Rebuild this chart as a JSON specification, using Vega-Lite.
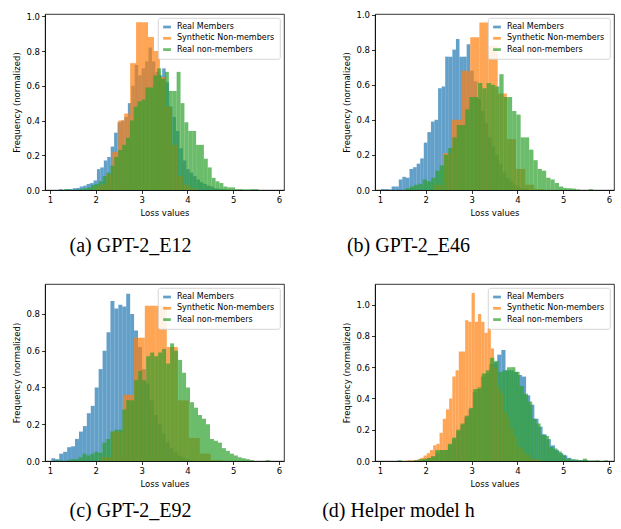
{
"$schema": "https://vega.github.io/schema/vega-lite/v6.json",
"background": "white",
"padding": {"left": 12, "top": 10, "right": 2, "bottom": 0},
"config": {
 "view": {"stroke": "black", "strokeWidth": 0.8},
 "axis": {"labelFont": "DejaVu Sans", "labelFontSize": 8.5, "titleFont": "DejaVu Sans", "titleFontSize": 8.5, "titleFontWeight": "normal", "labelColor": "black", "titleColor": "black", "tickColor": "black", "domainColor": "black", "tickSize": 3.5, "tickWidth": 0.8, "domainWidth": 0.8, "grid": false, "labelPadding": 2, "titlePadding": 4, "labelFlush": false, "labelOverlap": false},
 "legend": {"orient": "top-right", "offset": 4, "fillColor": "rgba(255,255,255,0.85)", "strokeColor": "#cccccc", "strokeWidth": 0.8, "cornerRadius": 2, "padding": 5, "labelFont": "DejaVu Sans", "labelFontSize": 8, "labelColor": "black", "symbolType": "M-1,-0.35H1V0.35H-1Z", "symbolSize": 60, "symbolOpacity": 0.7, "symbolStrokeWidth": 0, "rowPadding": 3.3, "labelOffset": 6},
 "title": {"font": "Liberation Serif", "fontSize": 20, "fontWeight": "normal", "color": "black"}
},
"datasets": {
"a": [
{"s":"Real Members","x0":1.2,"x1":1.275,"y":0.005},
{"s":"Real Members","x0":1.35,"x1":1.425,"y":0.005},
{"s":"Real Members","x0":1.425,"x1":1.5,"y":0.005},
{"s":"Real Members","x0":1.5,"x1":1.575,"y":0.01},
{"s":"Real Members","x0":1.575,"x1":1.65,"y":0.012},
{"s":"Real Members","x0":1.65,"x1":1.725,"y":0.02},
{"s":"Real Members","x0":1.725,"x1":1.8,"y":0.025},
{"s":"Real Members","x0":1.8,"x1":1.875,"y":0.035},
{"s":"Real Members","x0":1.875,"x1":1.95,"y":0.04},
{"s":"Real Members","x0":1.95,"x1":2.025,"y":0.055},
{"s":"Real Members","x0":2.025,"x1":2.1,"y":0.12},
{"s":"Real Members","x0":2.1,"x1":2.175,"y":0.13},
{"s":"Real Members","x0":2.175,"x1":2.25,"y":0.17},
{"s":"Real Members","x0":2.25,"x1":2.325,"y":0.19},
{"s":"Real Members","x0":2.325,"x1":2.4,"y":0.25},
{"s":"Real Members","x0":2.4,"x1":2.475,"y":0.33},
{"s":"Real Members","x0":2.475,"x1":2.55,"y":0.39},
{"s":"Real Members","x0":2.55,"x1":2.625,"y":0.40},
{"s":"Real Members","x0":2.625,"x1":2.7,"y":0.42},
{"s":"Real Members","x0":2.7,"x1":2.775,"y":0.5},
{"s":"Real Members","x0":2.775,"x1":2.85,"y":0.6},
{"s":"Real Members","x0":2.85,"x1":2.925,"y":0.72},
{"s":"Real Members","x0":2.925,"x1":3.0,"y":0.66},
{"s":"Real Members","x0":3.0,"x1":3.075,"y":0.70},
{"s":"Real Members","x0":3.075,"x1":3.15,"y":0.74},
{"s":"Real Members","x0":3.15,"x1":3.225,"y":0.82},
{"s":"Real Members","x0":3.225,"x1":3.3,"y":0.74},
{"s":"Real Members","x0":3.3,"x1":3.375,"y":0.68},
{"s":"Real Members","x0":3.375,"x1":3.45,"y":0.66},
{"s":"Real Members","x0":3.45,"x1":3.525,"y":0.70},
{"s":"Real Members","x0":3.525,"x1":3.6,"y":0.62},
{"s":"Real Members","x0":3.6,"x1":3.675,"y":0.48},
{"s":"Real Members","x0":3.675,"x1":3.75,"y":0.42},
{"s":"Real Members","x0":3.75,"x1":3.825,"y":0.34},
{"s":"Real Members","x0":3.825,"x1":3.9,"y":0.24},
{"s":"Real Members","x0":3.9,"x1":3.975,"y":0.17},
{"s":"Real Members","x0":3.975,"x1":4.05,"y":0.12},
{"s":"Real Members","x0":4.05,"x1":4.125,"y":0.10},
{"s":"Real Members","x0":4.125,"x1":4.2,"y":0.08},
{"s":"Real Members","x0":4.2,"x1":4.275,"y":0.06},
{"s":"Real Members","x0":4.275,"x1":4.35,"y":0.045},
{"s":"Real Members","x0":4.35,"x1":4.425,"y":0.035},
{"s":"Real Members","x0":4.425,"x1":4.5,"y":0.025},
{"s":"Real Members","x0":4.5,"x1":4.575,"y":0.02},
{"s":"Real Members","x0":4.575,"x1":4.65,"y":0.01},
{"s":"Real Members","x0":4.65,"x1":4.725,"y":0.008},
{"s":"Real Members","x0":4.725,"x1":4.8,"y":0.005},
{"s":"Real Members","x0":4.8,"x1":4.875,"y":0.003},
{"s":"Synthetic Non-members","x0":1.97,"x1":2.1,"y":0.02},
{"s":"Synthetic Non-members","x0":2.1,"x1":2.23,"y":0.035},
{"s":"Synthetic Non-members","x0":2.23,"x1":2.36,"y":0.09},
{"s":"Synthetic Non-members","x0":2.36,"x1":2.49,"y":0.22},
{"s":"Synthetic Non-members","x0":2.49,"x1":2.62,"y":0.40},
{"s":"Synthetic Non-members","x0":2.62,"x1":2.75,"y":0.44},
{"s":"Synthetic Non-members","x0":2.75,"x1":2.88,"y":0.73},
{"s":"Synthetic Non-members","x0":2.88,"x1":3.01,"y":0.965},
{"s":"Synthetic Non-members","x0":3.01,"x1":3.14,"y":0.965},
{"s":"Synthetic Non-members","x0":3.14,"x1":3.27,"y":0.88},
{"s":"Synthetic Non-members","x0":3.27,"x1":3.4,"y":0.80},
{"s":"Synthetic Non-members","x0":3.4,"x1":3.53,"y":0.65},
{"s":"Synthetic Non-members","x0":3.53,"x1":3.66,"y":0.48},
{"s":"Synthetic Non-members","x0":3.66,"x1":3.79,"y":0.26},
{"s":"Synthetic Non-members","x0":3.79,"x1":3.92,"y":0.08},
{"s":"Synthetic Non-members","x0":3.92,"x1":4.05,"y":0.03},
{"s":"Synthetic Non-members","x0":4.05,"x1":4.18,"y":0.01},
{"s":"Real non-members","x0":1.3,"x1":1.385,"y":0.005},
{"s":"Real non-members","x0":1.385,"x1":1.47,"y":0.003},
{"s":"Real non-members","x0":1.555,"x1":1.64,"y":0.003},
{"s":"Real non-members","x0":1.64,"x1":1.725,"y":0.005},
{"s":"Real non-members","x0":1.725,"x1":1.81,"y":0.01},
{"s":"Real non-members","x0":1.81,"x1":1.895,"y":0.015},
{"s":"Real non-members","x0":1.895,"x1":1.98,"y":0.03},
{"s":"Real non-members","x0":1.98,"x1":2.065,"y":0.035},
{"s":"Real non-members","x0":2.065,"x1":2.15,"y":0.05},
{"s":"Real non-members","x0":2.15,"x1":2.235,"y":0.08},
{"s":"Real non-members","x0":2.235,"x1":2.32,"y":0.10},
{"s":"Real non-members","x0":2.32,"x1":2.405,"y":0.14},
{"s":"Real non-members","x0":2.405,"x1":2.49,"y":0.19},
{"s":"Real non-members","x0":2.49,"x1":2.575,"y":0.23},
{"s":"Real non-members","x0":2.575,"x1":2.66,"y":0.26},
{"s":"Real non-members","x0":2.66,"x1":2.745,"y":0.30},
{"s":"Real non-members","x0":2.745,"x1":2.83,"y":0.40},
{"s":"Real non-members","x0":2.83,"x1":2.915,"y":0.48},
{"s":"Real non-members","x0":2.915,"x1":3.0,"y":0.51},
{"s":"Real non-members","x0":3.0,"x1":3.085,"y":0.52},
{"s":"Real non-members","x0":3.085,"x1":3.17,"y":0.59},
{"s":"Real non-members","x0":3.17,"x1":3.255,"y":0.59},
{"s":"Real non-members","x0":3.255,"x1":3.34,"y":0.66},
{"s":"Real non-members","x0":3.34,"x1":3.425,"y":0.70},
{"s":"Real non-members","x0":3.425,"x1":3.51,"y":0.64},
{"s":"Real non-members","x0":3.51,"x1":3.595,"y":0.68},
{"s":"Real non-members","x0":3.595,"x1":3.68,"y":0.57},
{"s":"Real non-members","x0":3.68,"x1":3.765,"y":0.57},
{"s":"Real non-members","x0":3.765,"x1":3.85,"y":0.68},
{"s":"Real non-members","x0":3.85,"x1":3.935,"y":0.50},
{"s":"Real non-members","x0":3.935,"x1":4.02,"y":0.39},
{"s":"Real non-members","x0":4.02,"x1":4.105,"y":0.34},
{"s":"Real non-members","x0":4.105,"x1":4.19,"y":0.34},
{"s":"Real non-members","x0":4.19,"x1":4.275,"y":0.26},
{"s":"Real non-members","x0":4.275,"x1":4.36,"y":0.26},
{"s":"Real non-members","x0":4.36,"x1":4.445,"y":0.18},
{"s":"Real non-members","x0":4.445,"x1":4.53,"y":0.13},
{"s":"Real non-members","x0":4.53,"x1":4.615,"y":0.07},
{"s":"Real non-members","x0":4.615,"x1":4.7,"y":0.05},
{"s":"Real non-members","x0":4.7,"x1":4.785,"y":0.04},
{"s":"Real non-members","x0":4.785,"x1":4.87,"y":0.02},
{"s":"Real non-members","x0":4.87,"x1":4.955,"y":0.015},
{"s":"Real non-members","x0":4.955,"x1":5.04,"y":0.015},
{"s":"Real non-members","x0":5.04,"x1":5.125,"y":0.005},
{"s":"Real non-members","x0":5.125,"x1":5.21,"y":0.005},
{"s":"Real non-members","x0":5.21,"x1":5.295,"y":0.003},
{"s":"Real non-members","x0":5.295,"x1":5.38,"y":0.003},
{"s":"Real non-members","x0":5.38,"x1":5.465,"y":0.005},
{"s":"Real non-members","x0":5.465,"x1":5.55,"y":0.005}
],
"b": [
{"s":"Real Members","x0":1.02,"x1":1.098,"y":0.005},
{"s":"Real Members","x0":1.098,"x1":1.176,"y":0.005},
{"s":"Real Members","x0":1.176,"x1":1.254,"y":0.003},
{"s":"Real Members","x0":1.254,"x1":1.332,"y":0.02},
{"s":"Real Members","x0":1.332,"x1":1.41,"y":0.02},
{"s":"Real Members","x0":1.41,"x1":1.488,"y":0.06},
{"s":"Real Members","x0":1.488,"x1":1.566,"y":0.075},
{"s":"Real Members","x0":1.566,"x1":1.644,"y":0.07},
{"s":"Real Members","x0":1.644,"x1":1.722,"y":0.12},
{"s":"Real Members","x0":1.722,"x1":1.8,"y":0.13},
{"s":"Real Members","x0":1.8,"x1":1.878,"y":0.15},
{"s":"Real Members","x0":1.878,"x1":1.956,"y":0.18},
{"s":"Real Members","x0":1.956,"x1":2.034,"y":0.27},
{"s":"Real Members","x0":2.034,"x1":2.112,"y":0.33},
{"s":"Real Members","x0":2.112,"x1":2.19,"y":0.39},
{"s":"Real Members","x0":2.19,"x1":2.268,"y":0.40},
{"s":"Real Members","x0":2.268,"x1":2.346,"y":0.58},
{"s":"Real Members","x0":2.346,"x1":2.424,"y":0.59},
{"s":"Real Members","x0":2.424,"x1":2.502,"y":0.76},
{"s":"Real Members","x0":2.502,"x1":2.58,"y":0.76},
{"s":"Real Members","x0":2.58,"x1":2.658,"y":0.80},
{"s":"Real Members","x0":2.658,"x1":2.736,"y":0.86},
{"s":"Real Members","x0":2.736,"x1":2.814,"y":0.76},
{"s":"Real Members","x0":2.814,"x1":2.892,"y":0.76},
{"s":"Real Members","x0":2.892,"x1":2.97,"y":0.83},
{"s":"Real Members","x0":2.97,"x1":3.048,"y":0.68},
{"s":"Real Members","x0":3.048,"x1":3.126,"y":0.62},
{"s":"Real Members","x0":3.126,"x1":3.204,"y":0.52},
{"s":"Real Members","x0":3.204,"x1":3.282,"y":0.45},
{"s":"Real Members","x0":3.282,"x1":3.36,"y":0.38},
{"s":"Real Members","x0":3.36,"x1":3.438,"y":0.30},
{"s":"Real Members","x0":3.438,"x1":3.516,"y":0.25},
{"s":"Real Members","x0":3.516,"x1":3.594,"y":0.20},
{"s":"Real Members","x0":3.594,"x1":3.672,"y":0.15},
{"s":"Real Members","x0":3.672,"x1":3.75,"y":0.10},
{"s":"Real Members","x0":3.75,"x1":3.828,"y":0.07},
{"s":"Real Members","x0":3.828,"x1":3.906,"y":0.05},
{"s":"Real Members","x0":3.906,"x1":3.984,"y":0.03},
{"s":"Real Members","x0":3.984,"x1":4.062,"y":0.02},
{"s":"Real Members","x0":4.062,"x1":4.14,"y":0.01},
{"s":"Real Members","x0":4.14,"x1":4.218,"y":0.005},
{"s":"Synthetic Non-members","x0":2.17,"x1":2.37,"y":0.03},
{"s":"Synthetic Non-members","x0":2.37,"x1":2.57,"y":0.21},
{"s":"Synthetic Non-members","x0":2.57,"x1":2.77,"y":0.40},
{"s":"Synthetic Non-members","x0":2.77,"x1":2.97,"y":0.68},
{"s":"Synthetic Non-members","x0":2.97,"x1":3.17,"y":0.87},
{"s":"Synthetic Non-members","x0":3.17,"x1":3.37,"y":0.955},
{"s":"Synthetic Non-members","x0":3.37,"x1":3.57,"y":0.82},
{"s":"Synthetic Non-members","x0":3.57,"x1":3.77,"y":0.55},
{"s":"Synthetic Non-members","x0":3.77,"x1":3.97,"y":0.29},
{"s":"Synthetic Non-members","x0":3.97,"x1":4.17,"y":0.12},
{"s":"Synthetic Non-members","x0":4.17,"x1":4.37,"y":0.03},
{"s":"Synthetic Non-members","x0":4.37,"x1":4.57,"y":0.005},
{"s":"Real non-members","x0":1.56,"x1":1.653,"y":0.01},
{"s":"Real non-members","x0":1.653,"x1":1.746,"y":0.02},
{"s":"Real non-members","x0":1.746,"x1":1.839,"y":0.03},
{"s":"Real non-members","x0":1.839,"x1":1.932,"y":0.035},
{"s":"Real non-members","x0":1.932,"x1":2.025,"y":0.06},
{"s":"Real non-members","x0":2.025,"x1":2.118,"y":0.05},
{"s":"Real non-members","x0":2.118,"x1":2.211,"y":0.07},
{"s":"Real non-members","x0":2.211,"x1":2.304,"y":0.11},
{"s":"Real non-members","x0":2.304,"x1":2.397,"y":0.14},
{"s":"Real non-members","x0":2.397,"x1":2.49,"y":0.20},
{"s":"Real non-members","x0":2.49,"x1":2.583,"y":0.24},
{"s":"Real non-members","x0":2.583,"x1":2.676,"y":0.30},
{"s":"Real non-members","x0":2.676,"x1":2.769,"y":0.37},
{"s":"Real non-members","x0":2.769,"x1":2.862,"y":0.37},
{"s":"Real non-members","x0":2.862,"x1":2.955,"y":0.46},
{"s":"Real non-members","x0":2.955,"x1":3.048,"y":0.53},
{"s":"Real non-members","x0":3.048,"x1":3.141,"y":0.53},
{"s":"Real non-members","x0":3.141,"x1":3.234,"y":0.61},
{"s":"Real non-members","x0":3.234,"x1":3.327,"y":0.58},
{"s":"Real non-members","x0":3.327,"x1":3.42,"y":0.61},
{"s":"Real non-members","x0":3.42,"x1":3.513,"y":0.60},
{"s":"Real non-members","x0":3.513,"x1":3.606,"y":0.59},
{"s":"Real non-members","x0":3.606,"x1":3.699,"y":0.66},
{"s":"Real non-members","x0":3.699,"x1":3.792,"y":0.53},
{"s":"Real non-members","x0":3.792,"x1":3.885,"y":0.53},
{"s":"Real non-members","x0":3.885,"x1":3.978,"y":0.45},
{"s":"Real non-members","x0":3.978,"x1":4.071,"y":0.43},
{"s":"Real non-members","x0":4.071,"x1":4.164,"y":0.30},
{"s":"Real non-members","x0":4.164,"x1":4.257,"y":0.30},
{"s":"Real non-members","x0":4.257,"x1":4.35,"y":0.23},
{"s":"Real non-members","x0":4.35,"x1":4.443,"y":0.17},
{"s":"Real non-members","x0":4.443,"x1":4.536,"y":0.12},
{"s":"Real non-members","x0":4.536,"x1":4.629,"y":0.11},
{"s":"Real non-members","x0":4.629,"x1":4.722,"y":0.07},
{"s":"Real non-members","x0":4.722,"x1":4.815,"y":0.06},
{"s":"Real non-members","x0":4.815,"x1":4.908,"y":0.04},
{"s":"Real non-members","x0":4.908,"x1":5.001,"y":0.02},
{"s":"Real non-members","x0":5.001,"x1":5.094,"y":0.012},
{"s":"Real non-members","x0":5.094,"x1":5.187,"y":0.01},
{"s":"Real non-members","x0":5.187,"x1":5.28,"y":0.008},
{"s":"Real non-members","x0":5.28,"x1":5.373,"y":0.003},
{"s":"Real non-members","x0":5.559,"x1":5.652,"y":0.005}
],
"c": [
{"s":"Real Members","x0":1.03,"x1":1.116,"y":0.015},
{"s":"Real Members","x0":1.116,"x1":1.202,"y":0.01},
{"s":"Real Members","x0":1.202,"x1":1.288,"y":0.04},
{"s":"Real Members","x0":1.288,"x1":1.374,"y":0.05},
{"s":"Real Members","x0":1.374,"x1":1.46,"y":0.075},
{"s":"Real Members","x0":1.46,"x1":1.546,"y":0.08},
{"s":"Real Members","x0":1.546,"x1":1.632,"y":0.12},
{"s":"Real Members","x0":1.632,"x1":1.718,"y":0.16},
{"s":"Real Members","x0":1.718,"x1":1.804,"y":0.19},
{"s":"Real Members","x0":1.804,"x1":1.89,"y":0.26},
{"s":"Real Members","x0":1.89,"x1":1.976,"y":0.30},
{"s":"Real Members","x0":1.976,"x1":2.062,"y":0.40},
{"s":"Real Members","x0":2.062,"x1":2.148,"y":0.50},
{"s":"Real Members","x0":2.148,"x1":2.234,"y":0.60},
{"s":"Real Members","x0":2.234,"x1":2.32,"y":0.70},
{"s":"Real Members","x0":2.32,"x1":2.406,"y":0.87},
{"s":"Real Members","x0":2.406,"x1":2.492,"y":0.83},
{"s":"Real Members","x0":2.492,"x1":2.578,"y":0.85},
{"s":"Real Members","x0":2.578,"x1":2.664,"y":0.84},
{"s":"Real Members","x0":2.664,"x1":2.75,"y":0.91},
{"s":"Real Members","x0":2.75,"x1":2.836,"y":0.80},
{"s":"Real Members","x0":2.836,"x1":2.922,"y":0.71},
{"s":"Real Members","x0":2.922,"x1":3.008,"y":0.62},
{"s":"Real Members","x0":3.008,"x1":3.094,"y":0.50},
{"s":"Real Members","x0":3.094,"x1":3.18,"y":0.42},
{"s":"Real Members","x0":3.18,"x1":3.266,"y":0.33},
{"s":"Real Members","x0":3.266,"x1":3.352,"y":0.25},
{"s":"Real Members","x0":3.352,"x1":3.438,"y":0.20},
{"s":"Real Members","x0":3.438,"x1":3.524,"y":0.15},
{"s":"Real Members","x0":3.524,"x1":3.61,"y":0.10},
{"s":"Real Members","x0":3.61,"x1":3.696,"y":0.07},
{"s":"Real Members","x0":3.696,"x1":3.782,"y":0.05},
{"s":"Real Members","x0":3.782,"x1":3.868,"y":0.03},
{"s":"Real Members","x0":3.868,"x1":3.954,"y":0.02},
{"s":"Real Members","x0":3.954,"x1":4.04,"y":0.01},
{"s":"Real Members","x0":4.04,"x1":4.126,"y":0.005},
{"s":"Synthetic Non-members","x0":2.11,"x1":2.35,"y":0.02},
{"s":"Synthetic Non-members","x0":2.35,"x1":2.59,"y":0.16},
{"s":"Synthetic Non-members","x0":2.59,"x1":2.83,"y":0.36},
{"s":"Synthetic Non-members","x0":2.83,"x1":3.07,"y":0.67},
{"s":"Synthetic Non-members","x0":3.07,"x1":3.31,"y":0.845},
{"s":"Synthetic Non-members","x0":3.31,"x1":3.55,"y":0.845},
{"s":"Synthetic Non-members","x0":3.55,"x1":3.79,"y":0.62},
{"s":"Synthetic Non-members","x0":3.79,"x1":4.03,"y":0.33},
{"s":"Synthetic Non-members","x0":4.03,"x1":4.27,"y":0.125},
{"s":"Synthetic Non-members","x0":4.27,"x1":4.51,"y":0.04},
{"s":"Synthetic Non-members","x0":4.51,"x1":4.75,"y":0.005},
{"s":"Real non-members","x0":1.1,"x1":1.187,"y":0.005},
{"s":"Real non-members","x0":1.187,"x1":1.274,"y":0.003},
{"s":"Real non-members","x0":1.361,"x1":1.448,"y":0.005},
{"s":"Real non-members","x0":1.448,"x1":1.535,"y":0.01},
{"s":"Real non-members","x0":1.535,"x1":1.622,"y":0.01},
{"s":"Real non-members","x0":1.622,"x1":1.709,"y":0.02},
{"s":"Real non-members","x0":1.709,"x1":1.796,"y":0.04},
{"s":"Real non-members","x0":1.796,"x1":1.883,"y":0.03},
{"s":"Real non-members","x0":1.883,"x1":1.97,"y":0.04},
{"s":"Real non-members","x0":1.97,"x1":2.057,"y":0.05},
{"s":"Real non-members","x0":2.057,"x1":2.144,"y":0.045},
{"s":"Real non-members","x0":2.144,"x1":2.231,"y":0.10},
{"s":"Real non-members","x0":2.231,"x1":2.318,"y":0.12},
{"s":"Real non-members","x0":2.318,"x1":2.405,"y":0.16},
{"s":"Real non-members","x0":2.405,"x1":2.492,"y":0.17},
{"s":"Real non-members","x0":2.492,"x1":2.579,"y":0.17},
{"s":"Real non-members","x0":2.579,"x1":2.666,"y":0.28},
{"s":"Real non-members","x0":2.666,"x1":2.753,"y":0.33},
{"s":"Real non-members","x0":2.753,"x1":2.84,"y":0.33},
{"s":"Real non-members","x0":2.84,"x1":2.927,"y":0.44},
{"s":"Real non-members","x0":2.927,"x1":3.014,"y":0.49},
{"s":"Real non-members","x0":3.014,"x1":3.101,"y":0.44},
{"s":"Real non-members","x0":3.101,"x1":3.188,"y":0.57},
{"s":"Real non-members","x0":3.188,"x1":3.275,"y":0.59},
{"s":"Real non-members","x0":3.275,"x1":3.362,"y":0.57},
{"s":"Real non-members","x0":3.362,"x1":3.449,"y":0.59},
{"s":"Real non-members","x0":3.449,"x1":3.536,"y":0.61},
{"s":"Real non-members","x0":3.536,"x1":3.623,"y":0.53},
{"s":"Real non-members","x0":3.623,"x1":3.71,"y":0.64},
{"s":"Real non-members","x0":3.71,"x1":3.797,"y":0.60},
{"s":"Real non-members","x0":3.797,"x1":3.884,"y":0.55},
{"s":"Real non-members","x0":3.884,"x1":3.971,"y":0.48},
{"s":"Real non-members","x0":3.971,"x1":4.058,"y":0.40},
{"s":"Real non-members","x0":4.058,"x1":4.145,"y":0.32},
{"s":"Real non-members","x0":4.145,"x1":4.232,"y":0.29},
{"s":"Real non-members","x0":4.232,"x1":4.319,"y":0.25},
{"s":"Real non-members","x0":4.319,"x1":4.406,"y":0.23},
{"s":"Real non-members","x0":4.406,"x1":4.493,"y":0.20},
{"s":"Real non-members","x0":4.493,"x1":4.58,"y":0.12},
{"s":"Real non-members","x0":4.58,"x1":4.667,"y":0.11},
{"s":"Real non-members","x0":4.667,"x1":4.754,"y":0.10},
{"s":"Real non-members","x0":4.754,"x1":4.841,"y":0.07},
{"s":"Real non-members","x0":4.841,"x1":4.928,"y":0.055},
{"s":"Real non-members","x0":4.928,"x1":5.015,"y":0.04},
{"s":"Real non-members","x0":5.015,"x1":5.102,"y":0.03},
{"s":"Real non-members","x0":5.102,"x1":5.189,"y":0.02},
{"s":"Real non-members","x0":5.189,"x1":5.276,"y":0.015},
{"s":"Real non-members","x0":5.276,"x1":5.363,"y":0.01},
{"s":"Real non-members","x0":5.363,"x1":5.45,"y":0.005},
{"s":"Real non-members","x0":5.711,"x1":5.798,"y":0.005}
],
"d": [
{"s":"Real Members","x0":1.76,"x1":1.85,"y":0.005},
{"s":"Real Members","x0":1.85,"x1":1.94,"y":0.01},
{"s":"Real Members","x0":1.94,"x1":2.03,"y":0.01},
{"s":"Real Members","x0":2.03,"x1":2.12,"y":0.02},
{"s":"Real Members","x0":2.12,"x1":2.21,"y":0.03},
{"s":"Real Members","x0":2.21,"x1":2.3,"y":0.05},
{"s":"Real Members","x0":2.3,"x1":2.39,"y":0.07},
{"s":"Real Members","x0":2.39,"x1":2.48,"y":0.07},
{"s":"Real Members","x0":2.48,"x1":2.57,"y":0.10},
{"s":"Real Members","x0":2.57,"x1":2.66,"y":0.14},
{"s":"Real Members","x0":2.66,"x1":2.75,"y":0.19},
{"s":"Real Members","x0":2.75,"x1":2.84,"y":0.23},
{"s":"Real Members","x0":2.84,"x1":2.93,"y":0.28},
{"s":"Real Members","x0":2.93,"x1":3.02,"y":0.33},
{"s":"Real Members","x0":3.02,"x1":3.11,"y":0.44},
{"s":"Real Members","x0":3.11,"x1":3.2,"y":0.46},
{"s":"Real Members","x0":3.2,"x1":3.29,"y":0.54},
{"s":"Real Members","x0":3.29,"x1":3.38,"y":0.56},
{"s":"Real Members","x0":3.38,"x1":3.47,"y":0.62},
{"s":"Real Members","x0":3.47,"x1":3.56,"y":0.63},
{"s":"Real Members","x0":3.56,"x1":3.65,"y":0.68},
{"s":"Real Members","x0":3.65,"x1":3.74,"y":0.71},
{"s":"Real Members","x0":3.74,"x1":3.83,"y":0.58},
{"s":"Real Members","x0":3.83,"x1":3.92,"y":0.58},
{"s":"Real Members","x0":3.92,"x1":4.01,"y":0.57},
{"s":"Real Members","x0":4.01,"x1":4.1,"y":0.55},
{"s":"Real Members","x0":4.1,"x1":4.19,"y":0.54},
{"s":"Real Members","x0":4.19,"x1":4.28,"y":0.42},
{"s":"Real Members","x0":4.28,"x1":4.37,"y":0.36},
{"s":"Real Members","x0":4.37,"x1":4.46,"y":0.27},
{"s":"Real Members","x0":4.46,"x1":4.55,"y":0.22},
{"s":"Real Members","x0":4.55,"x1":4.64,"y":0.17},
{"s":"Real Members","x0":4.64,"x1":4.73,"y":0.14},
{"s":"Real Members","x0":4.73,"x1":4.82,"y":0.10},
{"s":"Real Members","x0":4.82,"x1":4.91,"y":0.07},
{"s":"Real Members","x0":4.91,"x1":5.0,"y":0.05},
{"s":"Real Members","x0":5.0,"x1":5.09,"y":0.035},
{"s":"Real Members","x0":5.09,"x1":5.18,"y":0.02},
{"s":"Real Members","x0":5.18,"x1":5.27,"y":0.01},
{"s":"Real Members","x0":5.27,"x1":5.36,"y":0.005},
{"s":"Real Members","x0":5.36,"x1":5.45,"y":0.005},
{"s":"Real Members","x0":5.45,"x1":5.54,"y":0.005},
{"s":"Synthetic Non-members","x0":1.6,"x1":1.67,"y":0.005},
{"s":"Synthetic Non-members","x0":1.67,"x1":1.74,"y":0.005},
{"s":"Synthetic Non-members","x0":1.74,"x1":1.81,"y":0.005},
{"s":"Synthetic Non-members","x0":1.81,"x1":1.88,"y":0.01},
{"s":"Synthetic Non-members","x0":1.88,"x1":1.95,"y":0.02},
{"s":"Synthetic Non-members","x0":1.95,"x1":2.02,"y":0.035},
{"s":"Synthetic Non-members","x0":2.02,"x1":2.09,"y":0.05},
{"s":"Synthetic Non-members","x0":2.09,"x1":2.16,"y":0.07},
{"s":"Synthetic Non-members","x0":2.16,"x1":2.23,"y":0.10},
{"s":"Synthetic Non-members","x0":2.23,"x1":2.3,"y":0.11},
{"s":"Synthetic Non-members","x0":2.3,"x1":2.37,"y":0.18},
{"s":"Synthetic Non-members","x0":2.37,"x1":2.44,"y":0.27},
{"s":"Synthetic Non-members","x0":2.44,"x1":2.51,"y":0.33},
{"s":"Synthetic Non-members","x0":2.51,"x1":2.58,"y":0.40},
{"s":"Synthetic Non-members","x0":2.58,"x1":2.65,"y":0.54},
{"s":"Synthetic Non-members","x0":2.65,"x1":2.72,"y":0.58},
{"s":"Synthetic Non-members","x0":2.72,"x1":2.79,"y":0.70},
{"s":"Synthetic Non-members","x0":2.79,"x1":2.86,"y":0.70},
{"s":"Synthetic Non-members","x0":2.86,"x1":2.93,"y":0.90},
{"s":"Synthetic Non-members","x0":2.93,"x1":3.0,"y":0.89},
{"s":"Synthetic Non-members","x0":3.0,"x1":3.07,"y":1.075},
{"s":"Synthetic Non-members","x0":3.07,"x1":3.14,"y":0.89},
{"s":"Synthetic Non-members","x0":3.14,"x1":3.21,"y":0.94},
{"s":"Synthetic Non-members","x0":3.21,"x1":3.28,"y":0.89},
{"s":"Synthetic Non-members","x0":3.28,"x1":3.35,"y":0.82},
{"s":"Synthetic Non-members","x0":3.35,"x1":3.42,"y":0.85},
{"s":"Synthetic Non-members","x0":3.42,"x1":3.49,"y":0.72},
{"s":"Synthetic Non-members","x0":3.49,"x1":3.56,"y":0.60},
{"s":"Synthetic Non-members","x0":3.56,"x1":3.63,"y":0.47},
{"s":"Synthetic Non-members","x0":3.63,"x1":3.7,"y":0.43},
{"s":"Synthetic Non-members","x0":3.7,"x1":3.77,"y":0.31},
{"s":"Synthetic Non-members","x0":3.77,"x1":3.84,"y":0.28},
{"s":"Synthetic Non-members","x0":3.84,"x1":3.91,"y":0.21},
{"s":"Synthetic Non-members","x0":3.91,"x1":3.98,"y":0.16},
{"s":"Synthetic Non-members","x0":3.98,"x1":4.05,"y":0.10},
{"s":"Synthetic Non-members","x0":4.05,"x1":4.12,"y":0.08},
{"s":"Synthetic Non-members","x0":4.12,"x1":4.19,"y":0.05},
{"s":"Synthetic Non-members","x0":4.19,"x1":4.26,"y":0.04},
{"s":"Synthetic Non-members","x0":4.26,"x1":4.33,"y":0.02},
{"s":"Synthetic Non-members","x0":4.33,"x1":4.4,"y":0.01},
{"s":"Synthetic Non-members","x0":4.4,"x1":4.47,"y":0.01},
{"s":"Synthetic Non-members","x0":4.47,"x1":4.54,"y":0.005},
{"s":"Real non-members","x0":1.38,"x1":1.472,"y":0.005},
{"s":"Real non-members","x0":1.748,"x1":1.84,"y":0.005},
{"s":"Real non-members","x0":1.84,"x1":1.932,"y":0.01},
{"s":"Real non-members","x0":1.932,"x1":2.024,"y":0.015},
{"s":"Real non-members","x0":2.024,"x1":2.116,"y":0.02},
{"s":"Real non-members","x0":2.116,"x1":2.208,"y":0.03},
{"s":"Real non-members","x0":2.208,"x1":2.3,"y":0.07},
{"s":"Real non-members","x0":2.3,"x1":2.392,"y":0.07},
{"s":"Real non-members","x0":2.392,"x1":2.484,"y":0.07},
{"s":"Real non-members","x0":2.484,"x1":2.576,"y":0.11},
{"s":"Real non-members","x0":2.576,"x1":2.668,"y":0.15},
{"s":"Real non-members","x0":2.668,"x1":2.76,"y":0.20},
{"s":"Real non-members","x0":2.76,"x1":2.852,"y":0.24},
{"s":"Real non-members","x0":2.852,"x1":2.944,"y":0.29},
{"s":"Real non-members","x0":2.944,"x1":3.036,"y":0.34},
{"s":"Real non-members","x0":3.036,"x1":3.128,"y":0.46},
{"s":"Real non-members","x0":3.128,"x1":3.22,"y":0.47},
{"s":"Real non-members","x0":3.22,"x1":3.312,"y":0.56},
{"s":"Real non-members","x0":3.312,"x1":3.404,"y":0.58},
{"s":"Real non-members","x0":3.404,"x1":3.496,"y":0.66},
{"s":"Real non-members","x0":3.496,"x1":3.588,"y":0.64},
{"s":"Real non-members","x0":3.588,"x1":3.68,"y":0.57},
{"s":"Real non-members","x0":3.68,"x1":3.772,"y":0.58},
{"s":"Real non-members","x0":3.772,"x1":3.864,"y":0.60},
{"s":"Real non-members","x0":3.864,"x1":3.956,"y":0.60},
{"s":"Real non-members","x0":3.956,"x1":4.048,"y":0.57},
{"s":"Real non-members","x0":4.048,"x1":4.14,"y":0.48},
{"s":"Real non-members","x0":4.14,"x1":4.232,"y":0.43},
{"s":"Real non-members","x0":4.232,"x1":4.324,"y":0.38},
{"s":"Real non-members","x0":4.324,"x1":4.416,"y":0.27},
{"s":"Real non-members","x0":4.416,"x1":4.508,"y":0.24},
{"s":"Real non-members","x0":4.508,"x1":4.6,"y":0.17},
{"s":"Real non-members","x0":4.6,"x1":4.692,"y":0.16},
{"s":"Real non-members","x0":4.692,"x1":4.784,"y":0.09},
{"s":"Real non-members","x0":4.784,"x1":4.876,"y":0.08},
{"s":"Real non-members","x0":4.876,"x1":4.968,"y":0.06},
{"s":"Real non-members","x0":4.968,"x1":5.06,"y":0.04},
{"s":"Real non-members","x0":5.06,"x1":5.152,"y":0.015},
{"s":"Real non-members","x0":5.152,"x1":5.244,"y":0.01},
{"s":"Real non-members","x0":5.244,"x1":5.336,"y":0.01},
{"s":"Real non-members","x0":5.336,"x1":5.428,"y":0.005},
{"s":"Real non-members","x0":5.428,"x1":5.52,"y":0.015},
{"s":"Real non-members","x0":5.52,"x1":5.612,"y":0.003},
{"s":"Real non-members","x0":5.612,"x1":5.704,"y":0.003},
{"s":"Real non-members","x0":5.704,"x1":5.796,"y":0.005},
{"s":"Real non-members","x0":5.888,"x1":5.98,"y":0.005}
]
},
"vconcat": [
 {"hconcat": [
  {"width": 239, "height": 176, "data": {"name": "a"},
   "title": {"text": "(a) GPT-2_E12", "orient": "bottom", "anchor": "middle", "frame": "group", "dx": -34, "offset": 19},
   "mark": {"type": "bar", "opacity": 0.7, "orient": "vertical"},
   "encoding": {
    "x": {"field": "x0", "type": "quantitative", "scale": {"domain": [1, 6], "nice": false, "zero": false}, "axis": {"title": "Loss values", "values": [1, 2, 3, 4, 5, 6], "format": "d"}},
    "x2": {"field": "x1"},
    "y": {"field": "y", "type": "quantitative", "stack": null, "scale": {"domain": [0, 1.013], "nice": false}, "axis": {"title": "Frequency (normalized)", "values": [0, 0.2, 0.4, 0.6, 0.8, 1.0], "format": ".1f"}},
    "y2": {"datum": 0},
    "color": {"field": "s", "type": "nominal", "scale": {"domain": ["Real Members", "Synthetic Non-members", "Real non-members"], "range": ["#1f77b4", "#ff7f0e", "#2ca02c"]}, "legend": {"title": null}}
   }},
  {"width": 239, "height": 176, "data": {"name": "b"},
   "title": {"text": "(b) GPT-2_E46", "orient": "bottom", "anchor": "middle", "frame": "group", "dx": -86, "offset": 19},
   "mark": {"type": "bar", "opacity": 0.7, "orient": "vertical"},
   "encoding": {
    "x": {"field": "x0", "type": "quantitative", "scale": {"domain": [1, 6], "nice": false, "zero": false}, "axis": {"title": "Loss values", "values": [1, 2, 3, 4, 5, 6], "format": "d"}},
    "x2": {"field": "x1"},
    "y": {"field": "y", "type": "quantitative", "stack": null, "scale": {"domain": [0, 1.003], "nice": false}, "axis": {"title": "Frequency (normalized)", "values": [0, 0.2, 0.4, 0.6, 0.8, 1.0], "format": ".1f"}},
    "y2": {"datum": 0},
    "color": {"field": "s", "type": "nominal", "scale": {"domain": ["Real Members", "Synthetic Non-members", "Real non-members"], "range": ["#1f77b4", "#ff7f0e", "#2ca02c"]}, "legend": {"title": null}}
   }}
 ], "spacing": 91, "bounds": "flush", "resolve": {"scale": {"x": "independent", "y": "independent", "color": "independent"}, "legend": {"color": "independent"}}},
 {"hconcat": [
  {"width": 239, "height": 177, "data": {"name": "c"},
   "title": {"text": "(c) GPT-2_E92", "orient": "bottom", "anchor": "middle", "frame": "group", "dx": -34, "offset": 13},
   "mark": {"type": "bar", "opacity": 0.7, "orient": "vertical"},
   "encoding": {
    "x": {"field": "x0", "type": "quantitative", "scale": {"domain": [1, 6], "nice": false, "zero": false}, "axis": {"title": "Loss values", "values": [1, 2, 3, 4, 5, 6], "format": "d"}},
    "x2": {"field": "x1"},
    "y": {"field": "y", "type": "quantitative", "stack": null, "scale": {"domain": [0, 0.963], "nice": false}, "axis": {"title": "Frequency (normalized)", "values": [0, 0.2, 0.4, 0.6, 0.8], "format": ".1f"}},
    "y2": {"datum": 0},
    "color": {"field": "s", "type": "nominal", "scale": {"domain": ["Real Members", "Synthetic Non-members", "Real non-members"], "range": ["#1f77b4", "#ff7f0e", "#2ca02c"]}, "legend": {"title": null}}
   }},
  {"width": 239, "height": 177, "data": {"name": "d"},
   "title": {"text": "(d) Helper model h", "orient": "bottom", "anchor": "middle", "frame": "group", "dx": -96, "offset": 13},
   "mark": {"type": "bar", "opacity": 0.7, "orient": "vertical"},
   "encoding": {
    "x": {"field": "x0", "type": "quantitative", "scale": {"domain": [1, 6], "nice": false, "zero": false}, "axis": {"title": "Loss values", "values": [1, 2, 3, 4, 5, 6], "format": "d"}},
    "x2": {"field": "x1"},
    "y": {"field": "y", "type": "quantitative", "stack": null, "scale": {"domain": [0, 1.132], "nice": false}, "axis": {"title": "Frequency (normalized)", "values": [0, 0.2, 0.4, 0.6, 0.8, 1.0], "format": ".1f"}},
    "y2": {"datum": 0},
    "color": {"field": "s", "type": "nominal", "scale": {"domain": ["Real Members", "Synthetic Non-members", "Real non-members"], "range": ["#1f77b4", "#ff7f0e", "#2ca02c"]}, "legend": {"title": null}}
   }}
 ], "spacing": 91, "bounds": "flush", "resolve": {"scale": {"x": "independent", "y": "independent", "color": "independent"}, "legend": {"color": "independent"}}}
],
"spacing": 27,
"resolve": {"scale": {"x": "independent", "y": "independent", "color": "independent"}, "legend": {"color": "independent"}}
}
